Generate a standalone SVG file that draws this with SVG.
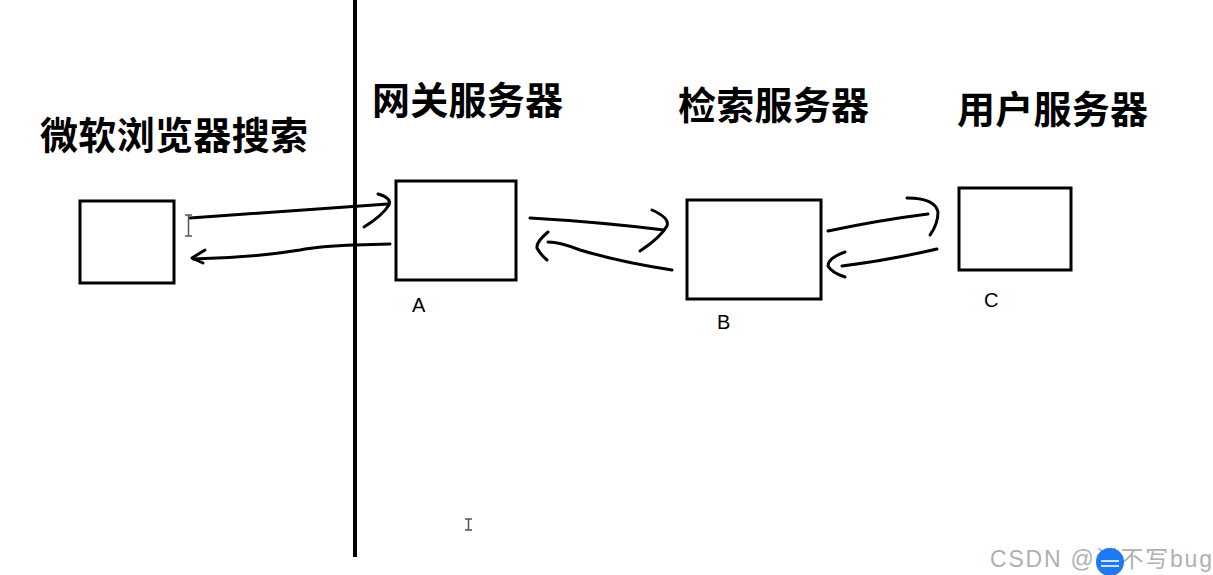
<svg xmlns="http://www.w3.org/2000/svg" width="1213" height="575" viewBox="0 0 1213 575">
<style>
.box{fill:#fff;stroke:#000;stroke-width:3}
.title{font-family:"Noto Sans CJK SC","Noto Sans CJK JP",sans-serif;font-size:38px;font-weight:700;fill:#000}
.lbl{font-family:"Liberation Sans",Arial,sans-serif;font-size:20px;fill:#000}
.ink{fill:none;stroke:#000;stroke-width:3;stroke-linecap:round;stroke-linejoin:round}
.cur{fill:none;stroke:#555;stroke-width:1.5}
.wm{font-family:"Liberation Sans","Noto Sans CJK SC",sans-serif;font-size:23px;fill:#b0b0b0}
</style>
<rect width="1213" height="575" fill="#fff"/>
<line x1="355" y1="0" x2="355" y2="557" stroke="#000" stroke-width="4"/>
<g id="browser">
<rect class="box" x="80" y="201" width="94" height="82"/>
<text class="title" x="40" y="149" textLength="268" lengthAdjust="spacing">微软浏览器搜索</text>
</g>
<g id="gateway">
<rect class="box" x="396" y="181" width="120" height="99"/>
<text class="title" x="372" y="114" textLength="191" lengthAdjust="spacing">网关服务器</text>
<text class="lbl" x="412" y="312">A</text>
</g>
<g id="search">
<rect class="box" x="687" y="200" width="134" height="99"/>
<text class="title" x="678" y="119" textLength="191" lengthAdjust="spacing">检索服务器</text>
<text class="lbl" x="717" y="329">B</text>
</g>
<g id="user">
<rect class="box" x="959" y="188" width="112" height="82"/>
<text class="title" x="957" y="123" textLength="191" lengthAdjust="spacing">用户服务器</text>
<text class="lbl" x="984" y="307">C</text>
</g>
<g id="connectors">
<path class="ink" d="M190 218 L388 204"/>
<path class="ink" d="M378 194 Q392 198 389 205 Q382 216 364 227"/>
<path class="ink" d="M390 244 L355 245 Q320 246 300 250 Q250 258 193 259"/>
<path class="ink" d="M205 250 L192 258 L203 263"/>
<path class="ink" d="M530 218 Q600 222 664 230"/>
<path class="ink" d="M652 210 Q670 218 667 226 Q660 238 640 251"/>
<path class="ink" d="M672 270 Q620 262 580 250 Q560 242 548 242"/>
<path class="ink" d="M548 232 Q536 242 537 248 Q540 254 547 260"/>
<path class="ink" d="M828 231 Q880 220 928 214"/>
<path class="ink" d="M907 198 Q935 198 938 212 Q938 224 930 235"/>
<path class="ink" d="M937 249 Q890 260 842 266"/>
<path class="ink" d="M845 252 Q828 258 828 266 Q832 273 845 277"/>
</g>
<path class="cur" d="M185 215 H192 M188.5 215 V236 M185 236 H192"/>
<path class="cur" d="M465 519 H472 M468.5 519 V530 M465 530 H472"/>
<g id="watermark">
<text class="wm" x="990" y="567" textLength="222" lengthAdjust="spacing">CSDN @洋不写bug</text>
<circle cx="1110" cy="562" r="14" fill="#1e7af0"/>
<path d="M1101 561 H1119 M1101 566 H1119" stroke="#cfe0f7" stroke-width="2"/>
</g>
</svg>
